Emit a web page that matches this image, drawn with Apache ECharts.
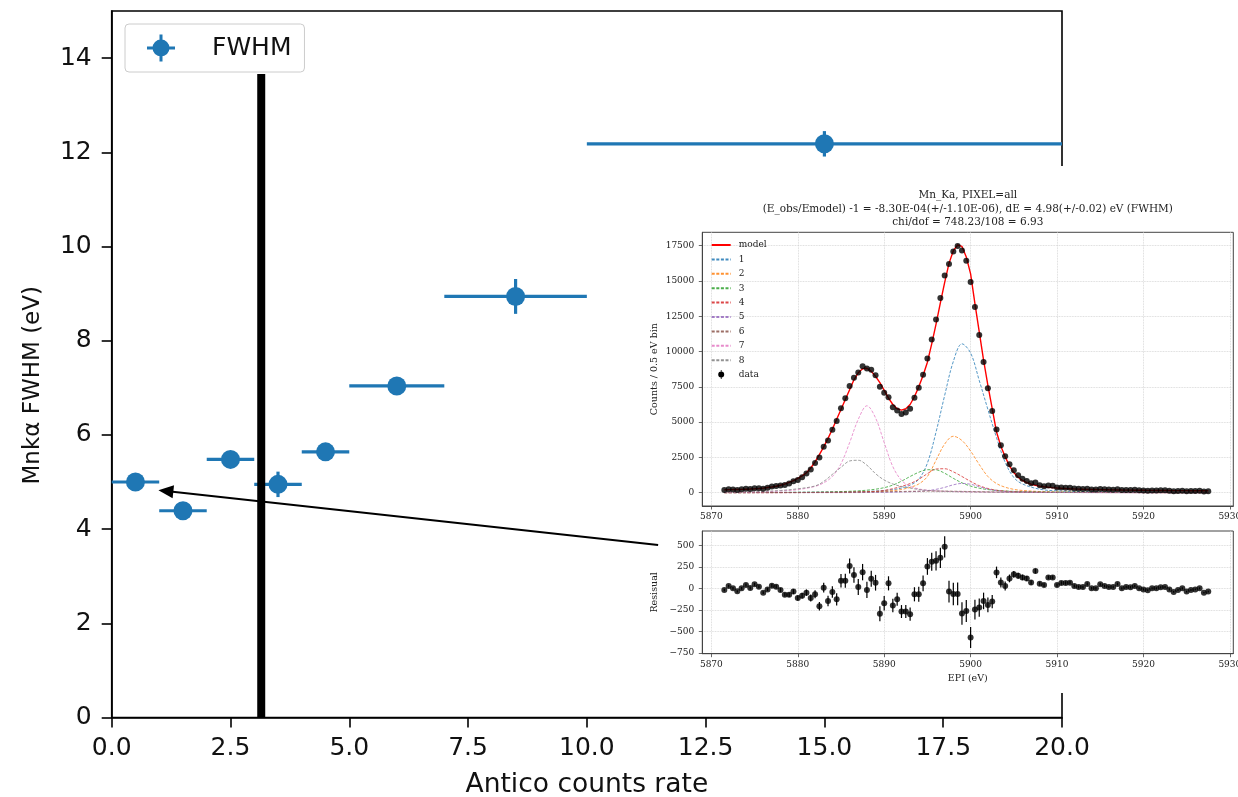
<!DOCTYPE html>
<html><head><meta charset="utf-8">
<script src="https://cdn.jsdelivr.net/npm/echarts@6/dist/echarts.min.js"></script>
<style>html,body{margin:0;padding:0;background:#fff}#c{width:1238px;height:797px}</style>
</head><body><div id="c"></div>
<script>
// ---------------- main chart data ----------------
const mainX    = [0.5, 1.5, 2.5, 3.5, 4.5, 6.0, 8.5, 15.0];
const mainY    = [5.00, 4.39, 5.48, 4.95, 5.64, 7.04, 8.94, 12.18];
const mainXErr = [0.5, 0.5, 0.5, 0.5, 0.5, 1.0, 1.5, 5.0];
const mainYErr = [0.08, 0.08, 0.08, 0.27, 0.08, 0.12, 0.37, 0.27];
const mainXTicks = [0, 2.5, 5, 7.5, 10, 12.5, 15, 17.5, 20];
const mainYTicks = [0, 2, 4, 6, 8, 10, 12, 14];
const vlineX = 3.147, vlineTop = 13.66;
const arrowFrom = [11.5, 3.66], arrowTo = [1.14, 4.81];

// ---------------- inset spectrum data ----------------
const energies = [5871.5,5872,5872.5,5873,5873.5,5874,5874.5,5875,5875.5,5876,5876.5,5877,5877.5,5878,5878.5,5879,5879.5,5880,5880.5,5881,5881.5,5882,5882.5,5883,5883.5,5884,5884.5,5885,5885.5,5886,5886.5,5887,5887.5,5888,5888.5,5889,5889.5,5890,5890.5,5891,5891.5,5892,5892.5,5893,5893.5,5894,5894.5,5895,5895.5,5896,5896.5,5897,5897.5,5898,5898.5,5899,5899.5,5900,5900.5,5901,5901.5,5902,5902.5,5903,5903.5,5904,5904.5,5905,5905.5,5906,5906.5,5907,5907.5,5908,5908.5,5909,5909.5,5910,5910.5,5911,5911.5,5912,5912.5,5913,5913.5,5914,5914.5,5915,5915.5,5916,5916.5,5917,5917.5,5918,5918.5,5919,5919.5,5920,5920.5,5921,5921.5,5922,5922.5,5923,5923.5,5924,5924.5,5925,5925.5,5926,5926.5,5927,5927.5];
const counts = [196,247,225,197,238,288,266,324,319,280,
358,441,479,511,547,657,822,898,1105,1370,
1638,2111,2492,3258,3704,4458,5073,5988,6688,7558,
8154,8515,8968,8801,8712,8315,7504,7077,6758,6050,
5823,5581,5681,5950,6731,7431,8358,9504,10858,12269,
13804,15381,16212,17085,17485,17158,16438,14931,13154,11177,
9254,7408,5796,4485,3369,2577,2015,1592,1246,997,
835,679,730,524,463,517,487,373,377,360,
348,297,274,264,290,232,225,264,239,221,
216,246,191,202,195,206,175,160,146,166,
163,172,172,143,110,131,148,108,125,130,
140,88,98];
const model = [215,220,225,232,238,250,262,278,300,330,
370,410,460,530,620,730,860,1010,1190,1420,
1750,2180,2700,3250,3850,4500,5200,5900,6600,7300,
8000,8500,8780,8820,8600,8250,7800,7250,6700,6250,
5950,5850,5950,6250,6800,7500,8300,9250,10550,11950,
13450,14900,16250,17150,17550,17450,16700,15500,13400,11400,
9400,7600,5950,4300,3300,2550,1900,1430,1100,870,
720,610,530,470,425,390,360,335,315,298,
283,270,259,249,240,232,225,218,212,206,
201,196,191,187,183,179,175,172,169,166,
163,160,157,155,152,150,148,146,144,142,
140,138,136];
const residual = [-19,27,0,-35,0,38,4,46,19,-50,
-12,31,19,-19,-73,-73,-38,-112,-85,-50,
-112,-69,-208,8,-146,-42,-127,88,88,258,
154,15,188,-19,112,65,-296,-173,58,-200,
-127,-269,-269,-300,-69,-69,58,254,308,319,
354,481,-38,-65,-65,-292,-262,-569,-246,-223,
-146,-192,-154,185,69,27,115,162,146,127,
115,69,200,54,38,127,127,38,62,62,
65,27,15,15,50,0,0,46,27,15,
15,50,0,15,12,27,0,-12,-23,0,
0,12,15,-12,-42,-19,0,-38,-19,-12,
0,-50,-38];
const countErr = [14,16,15,14,15,17,16,18,17,17,
19,21,22,23,23,26,29,30,33,37,
40,46,50,57,61,67,71,77,82,87,
90,92,95,94,93,91,87,84,82,78,
76,75,75,77,82,86,91,97,104,111,
117,124,127,131,132,131,128,122,115,106,
96,86,76,67,58,51,45,40,35,32,
29,26,27,23,22,23,22,19,19,19,
19,17,17,16,17,15,15,16,15,15,
15,16,14,14,14,14,13,13,12,13,
13,13,13,12,10,11,12,10,11,11,
12,9,10];

// model components, read on a coarser energy grid
const compE = [5871.5,5874,5876,5878,5880,5882,5883,5884,5885,5886,5887,5888,5889,5890,5891,5892,5893,5894,5895,5896,5897,5898,5899,5900,5901,5902,5903,5904,5905,5906,5908,5910,5913,5917,5922,5927.5];
const comp1 = [12,15,18,23,29,38,44,50,56,60,75,95,120,160,220,330,540,950,2100,4300,6900,9300,10550,9900,7950,5900,3900,2150,1080,620,250,130,70,40,25,16];
const comp2 = [5,6,8,10,13,17,20,24,29,36,45,58,78,108,150,230,380,620,1150,2300,3450,4000,3700,2950,2000,1150,650,390,240,160,85,50,28,16,10,6];
const comp3 = [10,13,17,22,30,42,52,64,80,102,135,180,250,360,540,820,1150,1450,1630,1620,1380,1020,700,470,320,225,165,125,98,80,56,42,30,20,14,10];
const comp4 = [5,6,8,10,13,17,20,24,30,38,50,68,100,160,290,450,650,950,1350,1680,1700,1480,1150,800,500,300,180,115,80,60,38,27,18,12,8,6];
const comp5 = [2,2,3,3,4,6,7,8,9,11,13,16,20,25,35,50,70,100,150,240,380,560,660,600,430,260,150,90,60,42,24,16,10,6,4,3];
const comp6 = [8,10,12,15,19,24,27,31,35,40,46,53,61,70,80,90,100,108,113,115,112,105,95,84,73,63,54,46,40,35,27,21,15,11,8,6];
const comp7 = [30,45,70,120,220,450,700,1150,2050,3550,5200,6160,5300,3550,1850,880,450,270,180,130,100,80,66,55,47,40,35,31,28,25,20,17,13,10,7,5];
const comp8 = [40,60,95,160,280,480,800,1300,1800,2250,2300,1950,1350,900,620,440,330,230,165,125,100,82,70,60,52,45,40,36,32,29,24,20,16,12,9,7];
const compNames = ['1','2','3','4','5','6','7','8'];
const compColors = ['#1f77b4','#ff7f0e','#2ca02c','#d62728','#9467bd','#8c564b','#e377c2','#7f7f7f'];
const specXTicks = [5870, 5880, 5890, 5900, 5910, 5920, 5930];
const specYTicks = [0, 2500, 5000, 7500, 10000, 12500, 15000, 17500];
const resYTicks = [-750, -500, -250, 0, 250, 500];
const titleLines = ['Mn_Ka, PIXEL=all',
  '(E_obs/Emodel) -1 = -8.30E-04(+/-1.10E-06), dE = 4.98(+/-0.02) eV (FWHM)',
  'chi/dof = 748.23/108 = 6.93'];

// ---------------- build ----------------
const SANS = 'DejaVu Sans', SERIF = 'DejaVu Serif';
const comps = [comp1, comp2, comp3, comp4, comp5, comp6, comp7, comp8];
const zip = (a, b) => a.map((v, i) => [v, b[i]]);
const minusFmt = v => (v < 0 ? '\u2212' + Math.abs(v) : String(v));

function mainAxisCommon(ticks, fmt, margin) {
  return {
    axisLine: {show: true, onZero: false, lineStyle: {color: '#000', width: 1.6}},
    axisTick: {show: true, inside: false, length: 10, lineStyle: {color: '#000', width: 1.6}, customValues: ticks},
    axisLabel: {customValues: ticks, formatter: fmt, margin: margin, fontFamily: SANS, fontSize: 25, color: '#111'},
    splitLine: {show: false}
  };
}
function insetAxis(ticks, fmt, margin) {
  return {
    axisLine: {show: true, onZero: false, lineStyle: {color: '#444', width: 1}},
    axisTick: {show: true, inside: false, length: 3.5, lineStyle: {color: '#444', width: 0.8}, customValues: ticks},
    axisLabel: {customValues: ticks, formatter: fmt, margin: margin, fontFamily: SERIF, fontSize: 9, color: '#222'},
    splitLine: {show: true, lineStyle: {type: 'dotted', color: '#cfcfcf', width: 0.8}},
    nameTextStyle: {fontFamily: SERIF, fontSize: 9.5, color: '#222'}
  };
}

function errRenderer(color, width) {
  return function (params, api) {
    const x = api.value(0), y = api.value(1), ex = api.value(2), ey = api.value(3);
    const children = [];
    if (ex > 0) {
      const a = api.coord([x - ex, y]), b = api.coord([x + ex, y]);
      children.push({type: 'line', shape: {x1: a[0], y1: a[1], x2: b[0], y2: b[1]}, style: {stroke: color, lineWidth: width}});
    }
    if (ey > 0) {
      const a = api.coord([x, y - ey]), b = api.coord([x, y + ey]);
      children.push({type: 'line', shape: {x1: a[0], y1: a[1], x2: b[0], y2: b[1]}, style: {stroke: color, lineWidth: width}});
    }
    return {type: 'group', children: children};
  };
}

const series = [];
series.push({
  type: 'custom', xAxisIndex: 0, yAxisIndex: 0, z: 2,
  renderItem: errRenderer('#1f77b4', 3.2),
  data: mainX.map((x, i) => [x, mainY[i], mainXErr[i], mainYErr[i]]),
  silent: true
});
series.push({
  name: 'FWHM', type: 'scatter', xAxisIndex: 0, yAxisIndex: 0, z: 2,
  symbol: 'circle', symbolSize: 19, itemStyle: {color: '#1f77b4', opacity: 1},
  data: zip(mainX, mainY)
});
series.push({
  type: 'line', xAxisIndex: 0, yAxisIndex: 0, z: 2, symbol: 'none', silent: true,
  lineStyle: {color: '#000', width: 8, cap: 'butt'},
  data: [[vlineX, 0], [vlineX, vlineTop]]
});
series.push({
  name: 'model', type: 'line', xAxisIndex: 1, yAxisIndex: 1, z: 5, symbol: 'none',
  color: '#ff0000', lineStyle: {color: '#ff0000', width: 1.4},
  data: zip(energies, model)
});
comps.forEach((c, i) => {
  series.push({
    name: compNames[i], type: 'line', xAxisIndex: 1, yAxisIndex: 1, z: 5, symbol: 'none', smooth: 0.35,
    color: compColors[i], lineStyle: {color: compColors[i], width: 0.9, type: [3, 1.6], opacity: 0.85},
    data: zip(compE, c)
  });
});
series.push({
  name: 'data', type: 'scatter', xAxisIndex: 1, yAxisIndex: 1, z: 6,
  symbol: 'circle', symbolSize: 6, itemStyle: {color: '#000'},
  data: zip(energies, counts)
});
series.push({
  type: 'custom', xAxisIndex: 2, yAxisIndex: 2, z: 5, silent: true,
  renderItem: errRenderer('#000', 1.2),
  data: energies.map((e, i) => [e, residual[i], 0, countErr[i]])
});
series.push({
  name: 'resid', type: 'scatter', xAxisIndex: 2, yAxisIndex: 2, z: 6,
  symbol: 'circle', symbolSize: 6, itemStyle: {color: '#000'},
  data: zip(energies, residual)
});
series.push({
  type: 'line', xAxisIndex: 0, yAxisIndex: 0, z: 10, data: [], silent: true,
  markLine: {
    silent: true, z: 10, animation: false,
    symbol: ['none', 'triangle'], symbolSize: [13, 15],
    label: {show: false},
    lineStyle: {color: '#000', width: 2, type: 'solid'},
    data: [[{coord: arrowFrom}, {coord: arrowTo}]]
  }
});

const legendLineItems = ['model'].concat(compNames).map(n => ({name: n}));

const option = {
  animation: false,
  backgroundColor: '#fff',
  textStyle: {fontFamily: SANS},
  grid: [
    {left: 111.7, top: 11, width: 950.3, height: 706.5, show: true, borderColor: '#000', borderWidth: 1.6, z: 0, outerBoundsMode: 'none', containLabel: false},
    {left: 702.3, top: 232.3, width: 531, height: 273.7, show: true, borderColor: '#444', borderWidth: 1, z: 4, outerBoundsMode: 'none', containLabel: false},
    {left: 702.3, top: 531, width: 531, height: 122.7, show: true, borderColor: '#444', borderWidth: 1, z: 4, outerBoundsMode: 'none', containLabel: false}
  ],
  xAxis: [
    Object.assign({gridIndex: 0, type: 'value', min: 0, max: 20, z: 1,
      name: 'Antico counts rate', nameLocation: 'middle', nameGap: 54,
      nameTextStyle: {fontFamily: SANS, fontSize: 26.5, color: '#111'}}, mainAxisCommon(mainXTicks, v => v.toFixed(1), 18)),
    Object.assign({gridIndex: 1, type: 'value', min: 5868.95, max: 5930.4, z: 4}, insetAxis(specXTicks, v => String(v), 6.5)),
    Object.assign({gridIndex: 2, type: 'value', min: 5868.95, max: 5930.4, z: 4,
      name: 'EPI (eV)', nameLocation: 'middle', nameGap: 20}, insetAxis(specXTicks, v => String(v), 6.5))
  ],
  yAxis: [
    Object.assign({gridIndex: 0, type: 'value', min: 0, max: 15, z: 1,
      name: 'Mnk\u03b1 FWHM (eV)', nameLocation: 'middle', nameGap: 67, nameRotate: 90,
      nameTextStyle: {fontFamily: SANS, fontSize: 23, color: '#111', padding: [0, 42, 0, 0]}}, mainAxisCommon(mainYTicks, v => String(v), 20)),
    Object.assign({gridIndex: 1, type: 'value', min: -940, max: 18450, z: 4,
      name: 'Counts / 0.5 eV bin', nameLocation: 'middle', nameGap: 43, nameRotate: 90}, insetAxis(specYTicks, v => String(v), 8)),
    Object.assign({gridIndex: 2, type: 'value', min: -758, max: 665, z: 4,
      name: 'Resisual', nameLocation: 'middle', nameGap: 43, nameRotate: 90}, insetAxis(resYTicks, minusFmt, 8))
  ],
  legend: [
    {
      left: 125, top: 24, orient: 'horizontal', padding: [10.5, 13, 10.5, 22],
      itemWidth: 28, itemHeight: 27, selectedMode: false, z: 10,
      backgroundColor: 'rgba(255,255,255,0.8)', borderColor: '#cccccc', borderWidth: 1, borderRadius: 4,
      textStyle: {fontFamily: SANS, fontSize: 25, color: '#111', lineHeight: 27, padding: [0, 0, 0, 32]},
      data: [{name: 'FWHM', icon: 'path://M0,12H28V15H0Z M12.5,0H15.5V27H12.5Z M5.5,13.5A8.5,8.5 0 1 1 22.5,13.5A8.5,8.5 0 1 1 5.5,13.5Z'}]
    },
    {
      left: 710.7, top: 239.5, orient: 'vertical', padding: 0,
      itemWidth: 19, itemHeight: 9, itemGap: 3.4, selectedMode: false, z: 7,
      itemStyle: {opacity: 0},
      textStyle: {fontFamily: SERIF, fontSize: 9, color: '#222', lineHeight: 11, padding: [0, 0, 0, 3]},
      data: legendLineItems.concat([{name: 'data', itemStyle: {opacity: 1, color: '#000'},
        icon: 'path://M2.6,0H3.4V9H2.6Z M0,4.5A3,3 0 1 1 6,4.5A3,3 0 1 1 0,4.5Z'}])
    }
  ],
  graphic: [
    {type: 'rect', z: 3, silent: true, shape: {x: 645, y: 166, width: 593, height: 527}, style: {fill: '#ffffff'}},
    {type: 'text', z: 6, silent: true, x: 967.8, y: 188.5,
      style: {text: titleLines.join('\n'), fontFamily: SERIF, fontSize: 10.5, lineHeight: 13.7,
        fill: '#222', align: 'center', verticalAlign: 'top'}}
  ],
  series: series
};

const chart = echarts.init(document.getElementById('c'), null, {renderer: 'canvas', width: 1238, height: 797});
chart.setOption(option);
</script></body></html>
